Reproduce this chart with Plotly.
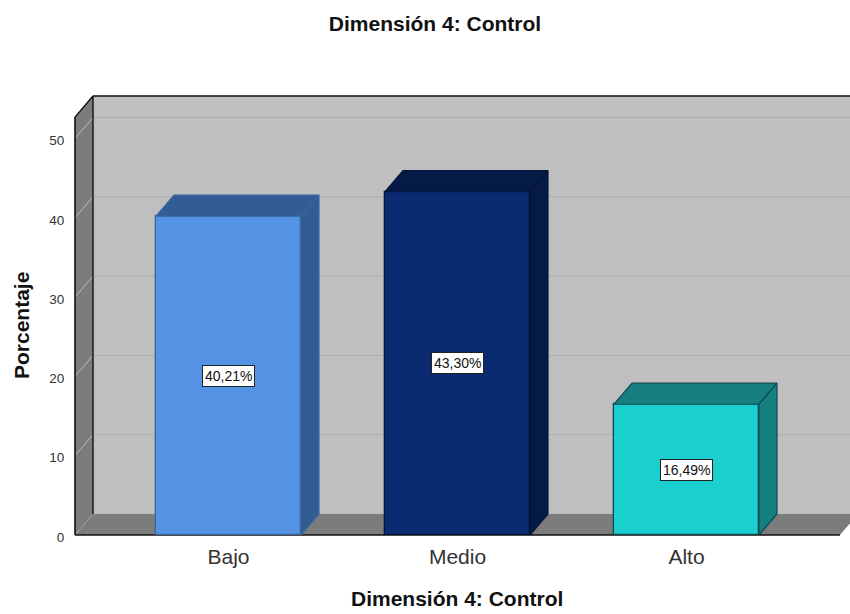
import plotly.graph_objects as go

# Data
categories = ["Bajo", "Medio", "Alto"]
percentages = [40.21, 43.30, 16.49]
y_ticks = [0, 10, 20, 30, 40, 50]
chart_title = "Dimensión 4: Control"
y_title = "Porcentaje"

# Colours per bar: front face, top/side face, outline
front_colors = ["#5594E4", "#0A2A72", "#1CCFCF"]
shade_colors = ["#335C94", "#051A47", "#167F7F"]
edge_colors = ["#3A659F", "#04153A", "#0B4A52"]

# Pseudo-3D box settings, in axis units
BAR_WIDTH = 0.633
DEPTH_X = 18 / 229
DEPTH_Y = 2.65
X_LEFT = -0.6703
X_RIGHT = 2.67
Y_TOP = 52.7

WALL = "#BFBFBF"
SIDE = "#7C7C7C"
INK = "#111111"

# Plot area edges in page pixels
PLOT_LEFT, PLOT_TOP, PLOT_BOTTOM, PAGE_W, PAGE_H = 73, 95, 537, 850, 614


def paper_x(px):
    return (px - PLOT_LEFT) / (PAGE_W - PLOT_LEFT)


def paper_y(py):
    return (PLOT_BOTTOM - py) / (PLOT_BOTTOM - PLOT_TOP)


def path(points):
    return "M " + " L ".join(f"{x},{y}" for x, y in points) + " Z"


def poly(points, fill, line=None, width=0):
    return dict(type="path", path=path(points), xref="x", yref="y", layer="below",
                fillcolor=fill, line=dict(color=line or fill, width=width))


def seg(x0, y0, x1, y1, color, width):
    return dict(type="line", x0=x0, y0=y0, x1=x1, y1=y1, xref="x", yref="y",
                layer="below", line=dict(color=color, width=width))


bx0, bx1 = X_LEFT + DEPTH_X, X_RIGHT + DEPTH_X
by0, by1 = DEPTH_Y, Y_TOP + DEPTH_Y

shapes = [
    # back wall, floor and left wall
    poly([(bx0, by0), (bx1, by0), (bx1, by1), (bx0, by1)], WALL),
    poly([(X_LEFT, 0), (X_RIGHT, 0), (bx1, by0), (bx0, by0)], SIDE),
    poly([(X_LEFT, 0), (bx0, by0), (bx0, by1), (X_LEFT, Y_TOP)], SIDE),
]
# gridlines across the back wall and the left wall
for t in y_ticks[1:]:
    shapes.append(seg(bx0, t + DEPTH_Y, bx1, t + DEPTH_Y, "#ADADAD", 1))
    shapes.append(seg(X_LEFT, t, bx0, t + DEPTH_Y, "#BDBDBD", 1))
shapes.append(seg(X_LEFT, 0, bx0, by0, "#9A9A9A", 1))
# frame
shapes += [
    seg(X_LEFT, 0, X_RIGHT, 0, INK, 1.6),
    seg(X_LEFT, 0, X_LEFT, Y_TOP, INK, 1.6),
    seg(X_LEFT, Y_TOP, bx0, by1, INK, 1.4),
    seg(bx0, by0, bx0, by1, INK, 1.4),
    seg(bx0, by1, bx1, by1, INK, 1.4),
]

fig = go.Figure()

# Front faces
fig.add_trace(go.Bar(
    x=list(range(len(categories))), y=percentages, width=BAR_WIDTH,
    marker=dict(color=front_colors, line=dict(color=edge_colors, width=1.3)),
    hoverinfo="skip", showlegend=False,
))

# Top and side faces of each bar
for i, v in enumerate(percentages):
    x0, x1 = i - BAR_WIDTH / 2, i + BAR_WIDTH / 2
    top = [x0, x1, x1 + DEPTH_X, x0 + DEPTH_X, x0], [v, v, v + DEPTH_Y, v + DEPTH_Y, v]
    side = [x1, x1 + DEPTH_X, x1 + DEPTH_X, x1, x1], [0, DEPTH_Y, v + DEPTH_Y, v, 0]
    for xs, ys in (top, side):
        fig.add_trace(go.Scatter(
            x=xs, y=ys, mode="lines", fill="toself", fillcolor=shade_colors[i],
            line=dict(color=edge_colors[i], width=1.2),
            hoverinfo="skip", showlegend=False,
        ))

annotations = [
    dict(x=i, y=v / 2, xref="x", yref="y", text=f"{v:.2f}%".replace(".", ","),
         showarrow=False, bgcolor="white", bordercolor="#222222", borderwidth=1,
         borderpad=2, font=dict(family="Liberation Sans, Arial", size=14, color="#111111"))
    for i, v in enumerate(percentages)
]
bold = dict(family="Liberation Sans, Arial", size=21, color="#111111")
annotations += [
    dict(x=paper_x(457), y=paper_y(598), xref="paper", yref="paper",
         xanchor="center", yanchor="middle",
         text=f"<b>{chart_title}</b>", showarrow=False, font=bold),
    dict(x=paper_x(21), y=paper_y(326), xref="paper", yref="paper",
         xanchor="center", yanchor="middle",
         text=f"<b>{y_title}</b>", showarrow=False, textangle=-90, font=bold),
]

fig.update_layout(
    width=PAGE_W, height=PAGE_H, autosize=False,
    margin=dict(l=PLOT_LEFT, r=0, t=PLOT_TOP, b=PAGE_H - PLOT_BOTTOM, pad=0),
    paper_bgcolor="white", plot_bgcolor="white",
    title=dict(text=f"<b>{chart_title}</b>", x=435 / PAGE_W, xanchor="center",
               y=1 - 24 / PAGE_H, yanchor="middle",
               font=dict(family="Liberation Sans, Arial", size=21, color="#111111")),
    xaxis=dict(range=[X_LEFT - 2 / 229, 850 / 229 - 228.5 / 229],
               tickvals=list(range(len(categories))), ticktext=categories,
               showgrid=False, zeroline=False, showline=False,
               ticks="outside", ticklen=1, tickcolor="rgba(0,0,0,0)",
               tickfont=dict(family="Liberation Sans, Arial", size=21, color="#333333")),
    yaxis=dict(range=[-2 / 7.93, 440 / 7.93],
               tickvals=y_ticks, showgrid=False, zeroline=False, showline=False,
               ticks="outside", ticklen=5, tickcolor="rgba(0,0,0,0)", ticklabelshift=2,
               tickfont=dict(family="Liberation Sans, Arial", size=13.5, color="#333333")),
    shapes=shapes, annotations=annotations,
    bargap=0,
)

fig.write_html("out.html")
